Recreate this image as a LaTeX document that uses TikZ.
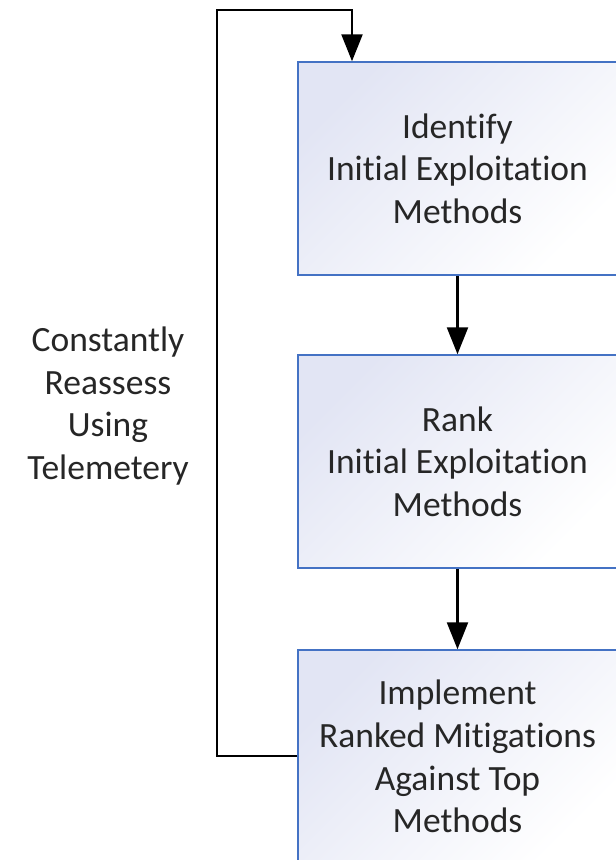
\documentclass[tikz,border=0pt]{standalone}
\usepackage{fontspec}
\setmainfont[Ligatures=NoCommon]{Carlito}
\usetikzlibrary{arrows.meta,positioning}
\definecolor{boxblue}{HTML}{4472C4}
\definecolor{boxfill}{HTML}{E2E5F4}
\tikzset{
  stepbox/.style={draw=boxblue, line width=1.5pt, left color=boxfill, right color=white, shading angle=45,
    minimum width=319pt, minimum height=213pt, align=center, inner sep=0pt,
    font=\fontsize{35.5}{42.7}\selectfont, text=black!85},
  conn/.style={line width=2.4pt, -{Triangle[length=27pt,width=21pt]}},
  lbl/.style={align=center, font=\fontsize{35.5}{42.7}\selectfont, text=black!85}
}
\begin{document}
\begin{tikzpicture}[x=1pt,y=-1pt]
\useasboundingbox (0,0) rectangle (616,860);
\clip (0,0) rectangle (616,860);
\node[stepbox] (b1) at (457.5,168.5) {Identify\\Initial Exploitation\\Methods};
\node[stepbox] (b2) at (457.5,461.5) {Rank\\Initial Exploitation\\Methods};
\node[stepbox] (b3) at (457.5,756.5) {Implement\\Ranked Mitigations\\Against Top\\Methods};
\node[lbl] (l) at (108,406) {Constantly\\Reassess\\Using\\Telemetery};
\coordinate (c1) at (217,756);
\coordinate (c2) at (217,10);
\coordinate (c3) at (352,10);
\draw[conn] (b1.south) -- (b2.north);
\draw[conn] (b2.south) -- (b3.north);
\draw[conn] (b3.west |- c1) -- (c1) -- (c2) -- (c3) -- (c3 |- b1.north);
\end{tikzpicture}
\end{document}
